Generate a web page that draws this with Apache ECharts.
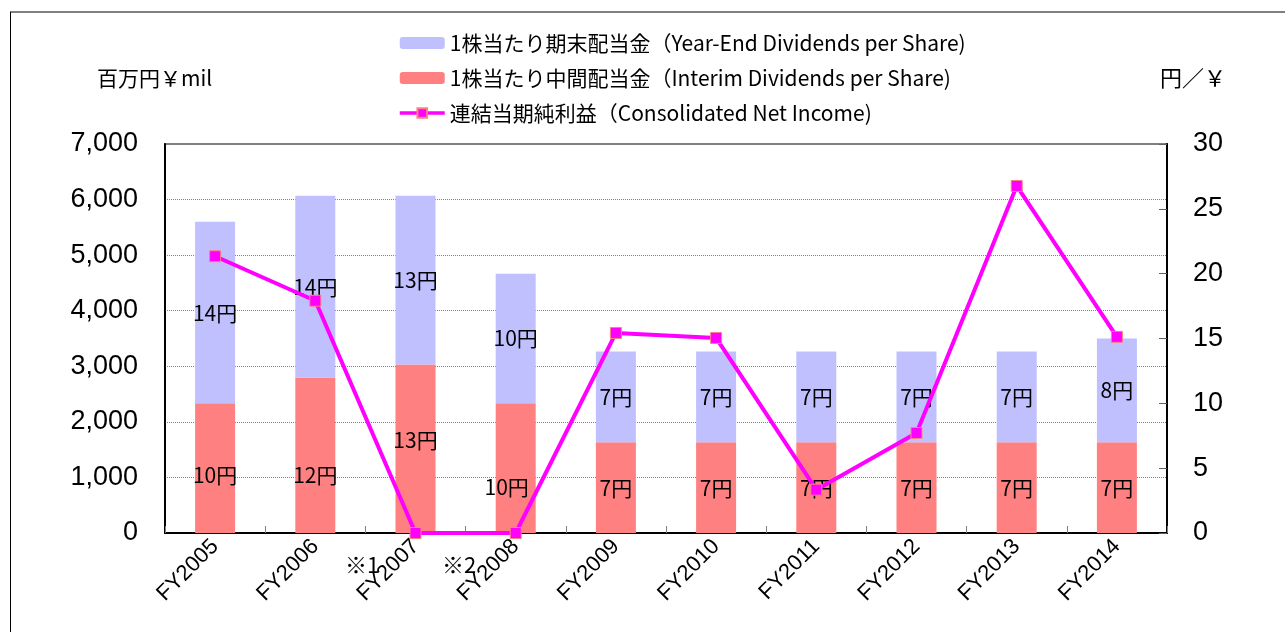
<!DOCTYPE html>
<html>
<head>
<meta charset="utf-8">
<script src="https://cdn.jsdelivr.net/npm/echarts@6/dist/echarts.min.js"></script>
<style>
html,body{margin:0;padding:0;background:#fff;}
#chart{width:1285px;height:632px;}
</style>
</head>
<body>
<div id="chart"></div>
<script>
// ---- data ----
const categories = ['FY2005','FY2006','FY2007','FY2008','FY2009','FY2010','FY2011','FY2012','FY2013','FY2014'];
const interimDividends = [10,12,13,10,7,7,7,7,7,7];
const yearEndDividends = [14,14,13,10,7,7,7,7,7,8];
const netIncome = [4980,4180,0,0,3600,3510,780,1800,6245,3530];
const leftTicks = [0,1000,2000,3000,4000,5000,6000,7000];
const rightTicks = [0,5,10,15,20,25,30];

const nameYearEnd = '1株当たり期末配当金（Year-End Dividends per Share)';
const nameInterim = '1株当たり中間配当金（Interim Dividends per Share)';
const nameNet = '連結当期純利益（Consolidated Net Income)';

// label nudges (style only)
const interimLabelNudge = {0:[0,7],1:[0,20],2:[0,-9],3:[-9,19]};

const CJK = '"Noto Sans CJK JP", "Noto Sans", sans-serif';
const LAT = '"Liberation Sans", Arial, sans-serif';

const chart = echarts.init(document.getElementById('chart'));

const interimData = interimDividends.map((v,i)=>{
  const o = {value:v};
  if (interimLabelNudge[i]) o.label = {offset: interimLabelNudge[i]};
  return o;
});

const labelStyle = {
  show:true, position:'inside', formatter:'{c}円',
  color:'#000', fontSize:21, fontFamily:CJK
};

chart.setOption({
  animation:false,
  backgroundColor:'#fff',
  grid:{left:165,right:118,top:144,bottom:99,show:true,borderColor:'#808080',borderWidth:2,backgroundColor:'transparent'},
  legend:{
    orient:'vertical', left:393, top:27, itemGap:13,
    itemWidth:45, itemHeight:12,
    data:[nameYearEnd,nameInterim,{name:nameNet,lineStyle:{width:3.5,color:'#FF00FF'}}],
    textStyle:{fontSize:21,fontFamily:CJK,color:'#000',lineHeight:22},
    selectedMode:false
  },
  xAxis:{
    type:'category', data:categories, boundaryGap:true,
    axisLine:{show:true,lineStyle:{color:'#000',width:2}},
    axisTick:{show:true,inside:true,length:7,lineStyle:{color:'#808080'}},
    axisLabel:{rotate:45,fontSize:22,fontFamily:LAT,color:'#000',margin:10,interval:0}
  },
  yAxis:[
    {type:'value',min:leftTicks[0],max:leftTicks[leftTicks.length-1],interval:leftTicks[1]-leftTicks[0],position:'left',
     axisLine:{show:true,lineStyle:{color:'#000',width:2}},
     axisTick:{show:false},
     axisLabel:{fontSize:27,fontFamily:LAT,color:'#000',margin:27,formatter:v=>v.toLocaleString('en-US')},
     splitLine:{show:true,lineStyle:{color:'#808080',type:'dotted',width:1}}
    },
    {type:'value',min:rightTicks[0],max:rightTicks[rightTicks.length-1],interval:rightTicks[1]-rightTicks[0],position:'right',
     axisLine:{show:true,lineStyle:{color:'#000',width:2}},
     axisTick:{show:true,inside:true,length:8,lineStyle:{color:'#606060'}},
     axisLabel:{fontSize:27,fontFamily:LAT,color:'#000',margin:26},
     splitLine:{show:false}
    }
  ],
  series:[
    {name:nameInterim,type:'bar',stack:'div',yAxisIndex:1,barWidth:40,
     itemStyle:{color:'#FF8080'},label:labelStyle,data:interimData,z:2},
    {name:nameYearEnd,type:'bar',stack:'div',yAxisIndex:1,barWidth:40,
     itemStyle:{color:'#C0C0FF'},label:labelStyle,data:yearEndDividends,z:2},
    {name:nameNet,type:'line',yAxisIndex:0,data:netIncome,
     symbol:'rect',symbolSize:11,showAllSymbol:true,
     lineStyle:{color:'#FF00FF',width:4},
     itemStyle:{color:'#FF00FF',borderColor:'#FF8080',borderWidth:1},
     z:5}
  ],
  graphic:[
    {type:'line',shape:{x1:10,y1:12,x2:1285,y2:12},style:{stroke:'#808080',lineWidth:2}},
    {type:'line',shape:{x1:10.5,y1:12,x2:10.5,y2:632},style:{stroke:'#000',lineWidth:1}},
    {type:'text',left:97,top:68,style:{text:'百万円￥mil',font:'21px '+CJK,fill:'#000'}},
    {type:'text',left:1160,top:67,style:{text:'円／￥',font:'22px '+CJK,fill:'#000'}},
    {type:'text',left:345,top:554,style:{text:'※1',font:'22px '+CJK,fill:'#000'}},
    {type:'text',left:442,top:554,style:{text:'※2',font:'22px '+CJK,fill:'#000'}}
  ]
});
</script>
</body>
</html>
